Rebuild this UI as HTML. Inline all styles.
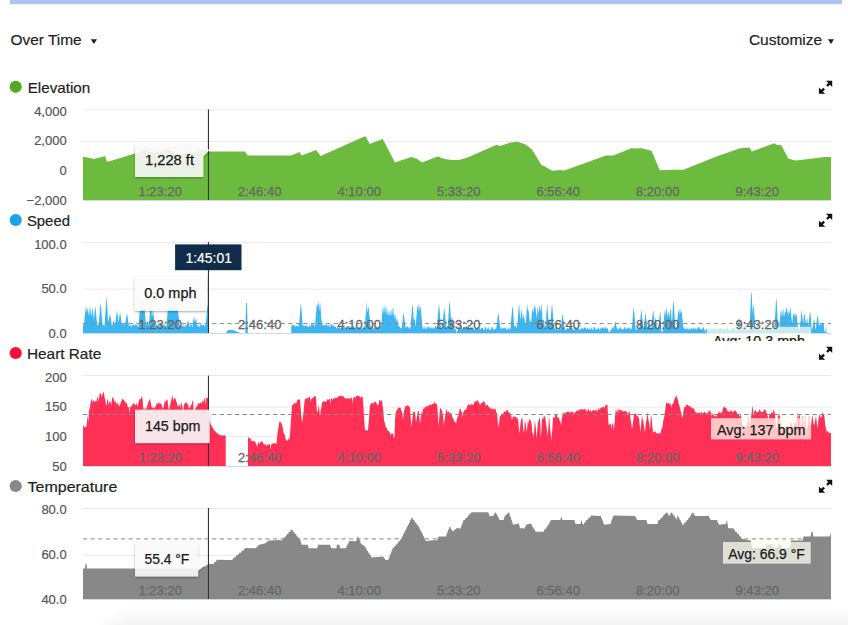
<!DOCTYPE html><html><head><meta charset="utf-8"><style>html,body{margin:0;padding:0;background:#fff;width:848px;height:625px;overflow:hidden}svg{display:block}text{font-family:"Liberation Sans",sans-serif}</style></head><body>
<svg width="848" height="625" viewBox="0 0 848 625">
<defs><linearGradient id="bsh" x1="0" y1="0" x2="0" y2="1"><stop offset="0" stop-color="#fff" stop-opacity="0"/><stop offset="1" stop-color="#e9e9e9" stop-opacity="1"/></linearGradient><linearGradient id="bshx" x1="0" y1="0" x2="1" y2="0"><stop offset="0" stop-color="#fff"/><stop offset="0.25" stop-color="#fff" stop-opacity="0"/></linearGradient><filter id="sh" x="-20%" y="-20%" width="140%" height="160%"><feGaussianBlur in="SourceAlpha" stdDeviation="0.9"/><feOffset dx="0" dy="1.4" result="b"/><feFlood flood-color="#000" flood-opacity="0.42"/><feComposite in2="b" operator="in"/><feMerge><feMergeNode/><feMergeNode in="SourceGraphic"/></feMerge></filter></defs>
<filter id="blr" x="-50%" y="-50%" width="200%" height="200%"><feGaussianBlur stdDeviation="9"/></filter>
<rect x="98" y="619" width="900" height="60" rx="30" fill="#000" opacity="0.055" filter="url(#blr)"/>
<rect x="10" y="0" width="832" height="4" fill="#abc6f1"/>
<rect x="10" y="4" width="832" height="1" fill="#abc6f1" opacity="0.25"/>
<text x="10.4" y="45.4" font-size="15" fill="#1e1e1e" stroke="#1e1e1e" stroke-width="0.2" textLength="71.3" lengthAdjust="spacingAndGlyphs">Over Time</text>
<path d="M90.8 39.2 L97 39.2 L93.9 43.9 Z" fill="#1e1e1e"/>
<text x="748.9" y="45.1" font-size="15" fill="#1e1e1e" stroke="#1e1e1e" stroke-width="0.2" textLength="73.3" lengthAdjust="spacingAndGlyphs">Customize</text>
<path d="M827.9 39.2 L834 39.2 L831 43.9 Z" fill="#1e1e1e"/>
<circle cx="15.7" cy="86.8" r="6.1" fill="#52ab1e"/>
<text x="27.7" y="92.9" font-size="15" fill="#1e1e1e" stroke="#1e1e1e" stroke-width="0.2" textLength="62.5" lengthAdjust="spacingAndGlyphs">Elevation</text>
<g transform="translate(0,0)"><path d="M826 80.8 L832.2 80.8 L832.2 87 L829.95 84.75 L827.83 86.87 L826.13 85.17 L828.25 83.05 Z" fill="#111"/><path d="M818.9 87.6 L821.15 89.85 L823.27 87.73 L824.97 89.43 L822.85 91.55 L825.1 93.8 L818.9 93.8 Z" fill="#111"/></g>
<text x="66.7" y="115.8" font-size="13" fill="#555" stroke="#555" stroke-width="0.2" text-anchor="end">4,000</text>
<text x="66.7" y="144.9" font-size="13" fill="#555" stroke="#555" stroke-width="0.2" text-anchor="end">2,000</text>
<text x="66.7" y="174.8" font-size="13" fill="#555" stroke="#555" stroke-width="0.2" text-anchor="end">0</text>
<text x="66.7" y="204.8" font-size="13" fill="#555" stroke="#555" stroke-width="0.2" text-anchor="end">−2,000</text>
<rect x="83" y="109.3" width="748" height="1" fill="#eaeaea"/>
<rect x="83" y="141" width="748" height="1" fill="#eaeaea"/>
<path d="M83 200 L83 156.6 L94 159 L103.6 156.6 L105 156 L107 161.8 L112 160.5 L134 153.8 L143.7 150.7 L157.8 153 L167 149.5 L176.7 154 L191 153 L206 149.5 L208.4 151.4 L245 151.4 L247.5 155.4 L291 155.4 L299.5 151.9 L301.8 155.4 L316 150 L320.7 156.1 L364.3 136.6 L366 136.8 L369.5 144.1 L382.7 138.9 L395 162.5 L402 160 L411.5 157 L417.4 159 L422 162.5 L437.5 156.6 L444.5 159 L451.6 160 L458.7 160 L467 157.8 L496.6 144.8 L500 146 L510.7 142.5 L517.8 141.7 L526 144.8 L532 149.5 L541.4 164.9 L544 166 L552 170.8 L561.4 170 L563.8 170.8 L606 155.4 L613.3 155.4 L632 147.9 L634 148.5 L641.6 148.3 L651.5 150.7 L659.8 170.3 L671.6 169.8 L683.4 169.8 L716.4 156.6 L740 148.3 L749.4 147.6 L751.8 151.4 L774.2 143.2 L776.5 144.8 L781.3 145.3 L788.3 158.5 L795.4 160.4 L813 158.5 L824.9 157 L831 157 L831 200 Z" fill="#6cbb3f"/>
<rect x="83" y="200" width="748" height="1" fill="#cfd7ec"/>
<text x="160.2" y="195.5" font-size="13" fill="#666" stroke="#666" stroke-width="0.3" text-anchor="middle">1:23:20</text>
<text x="259.7" y="195.5" font-size="13" fill="#666" stroke="#666" stroke-width="0.3" text-anchor="middle">2:46:40</text>
<text x="359.2" y="195.5" font-size="13" fill="#666" stroke="#666" stroke-width="0.3" text-anchor="middle">4:10:00</text>
<text x="458.7" y="195.5" font-size="13" fill="#666" stroke="#666" stroke-width="0.3" text-anchor="middle">5:33:20</text>
<text x="558.2" y="195.5" font-size="13" fill="#666" stroke="#666" stroke-width="0.3" text-anchor="middle">6:56:40</text>
<text x="657.7" y="195.5" font-size="13" fill="#666" stroke="#666" stroke-width="0.3" text-anchor="middle">8:20:00</text>
<text x="757.2" y="195.5" font-size="13" fill="#666" stroke="#666" stroke-width="0.3" text-anchor="middle">9:43:20</text>
<rect x="207.9" y="109.5" width="1.1" height="90.5" fill="#333"/>
<path filter="url(#sh)" d="M135 144.4 L203.4 144.4 L209.3 150.3 L203.4 156.5 L203.4 176.9 L135 176.9 Z" fill="#fff" fill-opacity="0.85"/>
<text x="145" y="165.4" font-size="14" fill="#1a1a1a" stroke="#1a1a1a" stroke-width="0.25" textLength="49" lengthAdjust="spacingAndGlyphs">1,228 ft</text>
<circle cx="15.7" cy="220" r="6.1" fill="#1aa3ea"/>
<text x="26.9" y="225.7" font-size="15" fill="#1e1e1e" stroke="#1e1e1e" stroke-width="0.2" textLength="43.1" lengthAdjust="spacingAndGlyphs">Speed</text>
<g transform="translate(0,133)"><path d="M826 80.8 L832.2 80.8 L832.2 87 L829.95 84.75 L827.83 86.87 L826.13 85.17 L828.25 83.05 Z" fill="#111"/><path d="M818.9 87.6 L821.15 89.85 L823.27 87.73 L824.97 89.43 L822.85 91.55 L825.1 93.8 L818.9 93.8 Z" fill="#111"/></g>
<text x="66.7" y="248.5" font-size="13" fill="#555" stroke="#555" stroke-width="0.2" text-anchor="end">100.0</text>
<text x="66.7" y="293" font-size="13" fill="#555" stroke="#555" stroke-width="0.2" text-anchor="end">50.0</text>
<text x="66.7" y="337.7" font-size="13" fill="#555" stroke="#555" stroke-width="0.2" text-anchor="end">0.0</text>
<rect x="83" y="242.1" width="748" height="1" fill="#eaeaea"/>
<rect x="83" y="288.6" width="748" height="1" fill="#eaeaea"/>
<rect x="83" y="333" width="748" height="1" fill="#cfd7ec"/>
<path d="M83 333 L83 333 L83 324.4 L83.5 323.7 L84 325.5 L84.5 318.6 L85 314.5 L85.5 309.1 L86 306 L86.5 311.3 L87 312.4 L87.5 308 L88 308.8 L88.5 313.4 L89 315.4 L89.5 310.6 L90 305 L90.5 310 L91 315.8 L91.5 315.8 L92 310.1 L92.5 307 L93 312.5 L93.5 316.1 L94 319.6 L94.5 313.1 L95 308 L95.5 307 L96 312.1 L96.5 318.4 L97 321.9 L97.5 325.3 L98 325.5 L98.5 324.5 L99 321.4 L99.5 314.2 L100 308.4 L100.5 302.7 L101 306.6 L101.5 312.5 L102 318.3 L102.5 325.3 L103 324.8 L103.5 324.3 L104 326.1 L104.5 325.7 L105 318.1 L105.5 311.2 L106 303.4 L106.5 295.6 L107 303.6 L107.5 310.7 L108 320.2 L108.5 321.4 L109 319.2 L109.5 316.4 L110 313 L110.5 316.1 L111 318.4 L111.5 323 L112 326 L112.5 324.1 L113 322.7 L113.5 320.3 L114 321.6 L114.5 323.4 L115 325.3 L115.5 321.7 L116 318.5 L116.5 314.4 L117 310 L117.5 314.1 L118 317.1 L118.5 322.4 L119 319.1 L119.5 315.9 L120 312 L120.5 315.2 L121 318.6 L121.5 322.7 L122 323.3 L122.5 324.9 L123 323.8 L123.5 323.6 L124 323.4 L124.5 326 L125 323.7 L125.5 321.8 L126 319.1 L126.5 316.5 L127 313 L127.5 316.1 L128 319.4 L128.5 323.6 L129 326.1 L129.5 326.3 L130 324.7 L130.5 325.2 L131 325 L131.5 326.9 L132 327.1 L132.5 324.2 L133 324.3 L133.5 324.5 L134 324.5 L134.5 325.4 L135 325.8 L135.5 324.6 L136 323.7 L136.5 325.2 L137 325 L137.5 325.7 L138 327.1 L138.5 326.2 L139 320.2 L139.5 313.6 L140 306.9 L140.5 300 L141 307.1 L141.5 312.1 L142 304.1 L142.5 296 L143 303.7 L143.5 308.1 L144 302 L144.5 308.3 L145 313.5 L145.5 319.3 L146 324.5 L146.5 324.3 L147 324.9 L147.5 323.9 L148 323.7 L148.5 324.2 L149 323 L149.5 318.1 L150 311.8 L150.5 306.8 L151 305.4 L151.5 310.8 L152 316.6 L152.5 313.9 L153 310 L153.5 313.7 L154 318.8 L154.5 323.6 L155 325.4 L155.5 325.4 L156 324 L156.5 324.1 L157 324.9 L157.5 324.7 L158 326.7 L158.5 324.3 L159 323.8 L159.5 327.1 L160 325.6 L160.5 324.2 L161 325.7 L161.5 323.8 L162 325.6 L162.5 327.2 L163 326.8 L163.5 326.2 L164 324.6 L164.5 325 L165 324.3 L165.5 326.5 L166 325.6 L166.5 326.5 L167 319.6 L167.5 312.9 L168 307 L168.5 300 L169 307 L169.5 306.3 L170 299 L170.5 306.2 L171 307.2 L171.5 301 L172 307.3 L172.5 305.9 L173 299.5 L173.5 306.1 L174 306.5 L174.5 300 L175 307.1 L175.5 308.1 L176 302 L176.5 308.6 L177 310.8 L177.5 305 L178 310.1 L178.5 315.3 L179 320.3 L179.5 324.4 L180 325.9 L180.5 326.9 L181 326.7 L181.5 325.4 L182 326.1 L182.5 326.6 L183 324 L183.5 326.1 L184 327 L184.5 326.5 L185 326.4 L185.5 325.4 L186 324.3 L186.5 326.5 L187 323.5 L187.5 322.4 L188 320 L188.5 321.8 L189 323.7 L189.5 327.1 L190 326.3 L190.5 324.3 L191 324.2 L191.5 324.2 L192 327 L192.5 326.6 L193 321.9 L193.5 319.8 L194 316 L194.5 319.6 L195 322.4 L195.5 320.7 L196 318 L196.5 320.1 L197 324.6 L197.5 326 L198 325.6 L198.5 327.1 L199 325.3 L199.5 326.8 L200 326.7 L200.5 324.5 L201 324.6 L201.5 324.8 L202 324.6 L202.5 325.8 L203 324.6 L203.5 325.2 L204 324.2 L204.5 327 L205 325 L205.5 325.3 L206 321.2 L206.5 316.1 L207 309.6 L207.5 304 L208 309.7 L208.4 333 L208.4 333 Z" fill="#3db5f0"/>
<path d="M291.2 333 L291.2 333 L291.2 326.1 L291.7 326.1 L292.2 324.3 L292.7 325.8 L293.2 324.9 L293.7 324.2 L294.2 327.1 L294.7 324.8 L295.2 325.9 L295.7 326.8 L296.2 326.2 L296.7 325.4 L297.2 326.1 L297.7 326.2 L298.2 327 L298.7 324.6 L299.2 323.6 L299.7 316.5 L300.2 310.2 L300.7 304.4 L301.2 305.5 L301.7 311.9 L302.2 318.7 L302.7 325.7 L303.2 325.3 L303.7 325.9 L304.2 325.5 L304.7 325.5 L305.2 326.2 L305.7 325.3 L306.2 325.6 L306.7 325.4 L307.2 327.1 L307.7 326.2 L308.2 326.9 L308.7 327.1 L309.2 324.6 L309.7 325.7 L310.2 327.1 L310.7 326.7 L311.2 324.2 L311.7 324.1 L312.2 325.3 L312.7 324 L313.2 324.6 L313.7 324 L314.2 326.1 L314.7 326.5 L315.2 325.6 L315.7 316.9 L316.2 311.6 L316.7 305 L317.2 303.4 L317.7 307.8 L318.2 300.5 L318.7 304.4 L319.2 311.4 L319.7 304 L320.2 302.7 L320.7 310 L321.2 316.9 L321.7 321.7 L322.2 325.3 L322.7 325.6 L323.2 324.9 L323.7 324.4 L324.2 324.8 L324.7 326.3 L325.2 323.8 L325.7 325.7 L326.2 325.3 L326.7 323.8 L327.2 324.9 L327.7 325.9 L328.2 325.5 L328.7 323.9 L329.2 327.2 L329.7 326.5 L330.2 327.2 L330.7 324.1 L331.2 324.7 L331.7 323.8 L332.2 326.5 L332.7 324.7 L333.2 324.2 L333.7 325.2 L334.2 327 L334.7 326.6 L335.2 326.6 L335.7 326.2 L336.2 329 L336.7 327.8 L337.2 328.2 L337.7 326 L338.2 325.9 L338.7 328.2 L339.2 327.2 L339.7 326 L340.2 329.1 L340.7 328 L341.2 328.6 L341.7 326 L342.2 328.8 L342.7 325.9 L343.2 328.8 L343.7 327.3 L344.2 326.9 L344.7 327.7 L345.2 329 L345.7 326.7 L346.2 326.2 L346.7 327.6 L347.2 326.6 L347.7 326.1 L348.2 326.3 L348.7 325.9 L349.2 326.4 L349.7 326.8 L350.2 326.8 L350.7 328.4 L351.2 326.7 L351.7 327.5 L352.2 326.3 L352.7 326.9 L353.2 325.8 L353.7 326.6 L354.2 325.8 L354.7 328.3 L355.2 327.7 L355.7 326.4 L356.2 327.4 L356.7 329.1 L357.2 326.1 L357.7 328.6 L358.2 327.3 L358.7 327.5 L359.2 328.7 L359.7 327.1 L360.2 327.5 L360.7 328.2 L361.2 329.2 L361.7 326.9 L362.2 328.7 L362.7 328.2 L363.2 328 L363.7 327.2 L364.2 327 L364.7 325.9 L365.2 321.1 L365.7 314.6 L366.2 308.9 L366.7 302 L367.2 308.4 L367.7 313.3 L368.2 307.9 L368.7 306.6 L369.2 312.9 L369.7 318.3 L370.2 324.2 L370.7 326.8 L371.2 327.4 L371.7 326.3 L372.2 327.3 L372.7 326.6 L373.2 329.2 L373.7 329.2 L374.2 327.7 L374.7 326.6 L375.2 329.2 L375.7 326.8 L376.2 327 L376.7 325.7 L377.2 327.1 L377.7 327.4 L378.2 327.5 L378.7 326.4 L379.2 327.5 L379.7 325.7 L380.2 326.7 L380.7 326 L381.2 325.9 L381.7 319 L382.2 313.2 L382.7 307.6 L383.2 306.4 L383.7 312.8 L384.2 312.8 L384.7 306.2 L385.2 304.7 L385.7 311.7 L386.2 315 L386.7 308.5 L387.2 307.3 L387.7 313.9 L388.2 316.3 L388.7 312 L389.2 311 L389.7 315.2 L390.2 316.1 L390.7 310.5 L391.2 309.2 L391.7 314.9 L392.2 314.9 L392.7 308.3 L393.2 307.4 L393.7 313.3 L394.2 319 L394.7 314.6 L395.2 313.8 L395.7 317.8 L396.2 322.7 L396.7 318.6 L397.2 317.7 L397.7 321.3 L398.2 324.4 L398.7 326.2 L399.2 327 L399.7 326.1 L400.2 328.7 L400.7 327.7 L401.2 328 L401.7 328 L402.2 323.8 L402.7 319.2 L403.2 314.7 L403.7 312.7 L404.2 317 L404.7 320.9 L405.2 325.1 L405.7 328.1 L406.2 325.9 L406.7 328.4 L407.2 326.6 L407.7 326 L408.2 326.7 L408.7 328.3 L409.2 326.4 L409.7 328.4 L410.2 329.2 L410.7 326.1 L411.2 319.2 L411.7 312.7 L412.2 306.1 L412.7 304.8 L413.2 311.5 L413.7 318.4 L414.2 319.7 L414.7 319.2 L415.2 322.3 L415.7 326.9 L416.2 319.3 L416.7 313.4 L417.2 306.6 L417.7 305.4 L418.2 311.7 L418.7 305.3 L419.2 303.9 L419.7 311 L420.2 307.6 L420.7 306.5 L421.2 312.6 L421.7 318.8 L422.2 323.8 L422.7 328.9 L423.2 326.4 L423.7 329.2 L424.2 329.1 L424.7 325.8 L425.2 327.4 L425.7 328.7 L426.2 329.2 L426.7 327.3 L427.2 326.7 L427.7 326.5 L428.2 329.1 L428.7 326.5 L429.2 327.8 L429.7 326.2 L430.2 327.6 L430.7 329.1 L431.2 326.2 L431.7 328.7 L432.2 327.5 L432.7 328.9 L433.2 328.2 L433.7 326.5 L434.2 328.9 L434.7 327.5 L435.2 325.8 L435.7 325.7 L436.2 327.5 L436.7 327.3 L437.2 325.5 L437.7 318.6 L438.2 312.5 L438.7 305.9 L439.2 304.8 L439.7 310.7 L440.2 318.7 L440.7 325.9 L441.2 326.1 L441.7 329 L442.2 328.3 L442.7 325.3 L443.2 318 L443.7 312.6 L444.2 307.1 L444.7 310.9 L445.2 316.3 L445.7 321.5 L446.2 327.2 L446.7 326.7 L447.2 325.9 L447.7 326.1 L448.2 320.9 L448.7 312.1 L449.2 305.3 L449.7 300.5 L450.2 307.7 L450.7 315.5 L451.2 321.5 L451.7 317.6 L452.2 317 L452.7 321.9 L453.2 326.7 L453.7 328 L454.2 329 L454.7 329.1 L455.2 328 L455.7 330.1 L456.2 330.8 L456.7 333 L457.2 331.2 L457.7 330.1 L458.2 328.3 L458.7 326.7 L459.2 325.9 L459.7 329 L460.2 326.2 L460.7 327.4 L461.2 326.9 L461.7 326.8 L462.2 328.4 L462.7 329.2 L463.2 326.6 L463.7 328.1 L464.2 326.8 L464.7 327.7 L465.2 327.1 L465.7 326.3 L466.2 326.3 L466.7 326.4 L467.2 329 L467.7 327.5 L468.2 326.5 L468.7 329 L469.2 329.3 L469.7 327.3 L470.2 327.2 L470.7 327.4 L471.2 327 L471.7 327.9 L472.2 327 L472.7 327.6 L473.2 327.6 L473.7 328.8 L474.2 329.9 L474.7 329.4 L475.2 328.2 L475.7 328.2 L476.2 328.6 L476.7 328.1 L477.2 327.9 L477.7 326.9 L478.2 327.7 L478.7 330.2 L479.2 327.2 L479.7 328.5 L480.2 329 L480.7 329.8 L481.2 327.5 L481.7 327.7 L482.2 327.6 L482.7 328.1 L483.2 328.3 L483.7 330.1 L484.2 329.8 L484.7 329.8 L485.2 326.8 L485.7 326.8 L486.2 329.3 L486.7 329.9 L487.2 328.4 L487.7 328.8 L488.2 326.7 L488.7 328.1 L489.2 330 L489.7 329.7 L490.2 329.8 L490.7 330.2 L491.2 327.6 L491.7 327.1 L492.2 327.3 L492.7 328.6 L493.2 329.2 L493.7 330.1 L494.2 329.3 L494.7 329 L495.2 329.5 L495.7 328.3 L496.2 328.7 L496.7 324.4 L497.2 321.8 L497.7 316.4 L498.2 312.2 L498.7 315 L499.2 319.1 L499.7 323 L500.2 327.6 L500.7 329 L501.2 329.2 L501.7 327.1 L502.2 327 L502.7 328.6 L503.2 328.8 L503.7 328.1 L504.2 327.5 L504.7 328.9 L505.2 326.7 L505.7 327.8 L506.2 328.4 L506.7 330.2 L507.2 329 L507.7 329.9 L508.2 328.4 L508.7 327.5 L509.2 327.6 L509.7 330.2 L510.2 329.2 L510.7 326.5 L511.2 319.5 L511.7 314.1 L512.2 307.6 L512.7 306.2 L513.2 312.5 L513.7 319.7 L514.2 327.2 L514.7 326.4 L515.2 325.4 L515.7 325.4 L516.2 326.6 L516.7 328.6 L517.2 326.1 L517.7 320.9 L518.2 313.5 L518.7 306.2 L519.2 304.7 L519.7 312.4 L520.2 318.3 L520.7 318.3 L521.2 312.1 L521.7 309 L522.2 314.8 L522.7 319.4 L523.2 317.5 L523.7 313 L524.2 316.8 L524.7 320.6 L525.2 325 L525.7 323.6 L526.2 317.3 L526.7 309.4 L527.2 303 L527.7 309.4 L528.2 310.3 L528.7 311 L529.2 316 L529.7 320.9 L530.2 321.7 L530.7 321.4 L531.2 322.3 L531.7 315.8 L532.2 309.8 L532.7 308.5 L533.2 314.1 L533.7 310 L534.2 303.5 L534.7 307.8 L535.2 307.3 L535.7 308.8 L536.2 314.7 L536.7 318.3 L537.2 312.2 L537.7 306.2 L538.2 309.6 L538.7 314.7 L539.2 308.3 L539.7 304.4 L540.2 310.6 L540.7 310.9 L541.2 303.3 L541.7 307.5 L542.2 315.1 L542.7 322.4 L543.2 320.2 L543.7 319.3 L544.2 323.2 L544.7 326.6 L545.2 330 L545.7 322.3 L546.2 316.2 L546.7 310.1 L547.2 303 L547.7 309.6 L548.2 317 L548.7 323.9 L549.2 321.5 L549.7 321 L550.2 323.5 L550.7 321 L551.2 312.5 L551.7 305.9 L552.2 304.5 L552.7 311.2 L553.2 318 L553.7 327.1 L554.2 328.9 L554.7 327.6 L555.2 329.3 L555.7 327.8 L556.2 327.7 L556.7 326.7 L557.2 329.4 L557.7 330 L558.2 329 L558.7 330.1 L559.2 326.8 L559.7 327.5 L560.2 328.4 L560.7 330.1 L561.2 325.6 L561.7 320.1 L562.2 316.1 L562.7 313.8 L563.2 317.9 L563.7 322.9 L564.2 325.1 L564.7 329.6 L565.2 329.4 L565.7 329.7 L566.2 329.5 L566.7 328.9 L567.2 327.9 L567.7 327.9 L568.2 328 L568.7 329.5 L569.2 327 L569.7 327.4 L570.2 329.4 L570.7 327.6 L571.2 326.9 L571.7 326.8 L572.2 328.7 L572.7 327.9 L573.2 330.2 L573.7 329.9 L574.2 330.3 L574.7 327.7 L575.2 327 L575.7 327 L576.2 328.5 L576.7 329.3 L577.2 328.3 L577.7 327.5 L578.2 328.2 L578.7 328.9 L579.2 329.1 L579.7 329.4 L580.2 329.7 L580.7 329.1 L581.2 327.1 L581.7 329.7 L582.2 327.8 L582.7 328.7 L583.2 328 L583.7 329.4 L584.2 327.4 L584.7 327.6 L585.2 327.6 L585.7 327.3 L586.2 329.9 L586.7 328.8 L587.2 327.9 L587.7 328.1 L588.2 330.3 L588.7 328.5 L589.2 327.5 L589.7 329.6 L590.2 329.1 L590.7 330.3 L591.2 327.1 L591.7 328.4 L592.2 329.6 L592.7 329.7 L593.2 330 L593.7 326.8 L594.2 327.8 L594.7 327.1 L595.2 327.4 L595.7 330.2 L596.2 328.8 L596.7 330 L597.2 328 L597.7 329.8 L598.2 328.3 L598.7 327.6 L599.2 329.5 L599.7 330.1 L600.2 327.1 L600.7 328.8 L601.2 328.9 L601.7 327.5 L602.2 328 L602.7 327.2 L603.2 327.4 L603.7 327.6 L604.2 328.9 L604.7 329 L605.2 327.4 L605.7 326.7 L606.2 327.9 L606.7 329.1 L607.2 327.4 L607.7 328.8 L608.2 329.7 L608.7 331.8 L609.2 332.4 L609.7 332.4 L610.2 331.1 L610.7 330.3 L611.2 329.7 L611.7 329 L612.2 327 L612.7 327.3 L613.2 329.2 L613.7 328.2 L614.2 326.7 L614.7 324.3 L615.2 322 L615.7 322.2 L616.2 325.3 L616.7 327.5 L617.2 328.2 L617.7 329.8 L618.2 330.3 L618.7 328 L619.2 327.4 L619.7 329.3 L620.2 327.4 L620.7 326.7 L621.2 329.9 L621.7 328.2 L622.2 329.7 L622.7 328.2 L623.2 329.9 L623.7 328.4 L624.2 327.3 L624.7 326.8 L625.2 328.7 L625.7 329 L626.2 330 L626.7 327 L627.2 328.9 L627.7 328 L628.2 328.5 L628.7 327.2 L629.2 327.7 L629.7 328.6 L630.2 330 L630.7 327.1 L631.2 328.5 L631.7 329.6 L632.2 325.1 L632.7 317.3 L633.2 311.6 L633.7 306 L634.2 312.4 L634.7 317.8 L635.2 322.5 L635.7 330 L636.2 328.1 L636.7 330 L637.2 328.9 L637.7 329.7 L638.2 327.3 L638.7 329.5 L639.2 327.5 L639.7 325.1 L640.2 320.8 L640.7 315.2 L641.2 309.5 L641.7 312.5 L642.2 317.8 L642.7 323.3 L643.2 328.1 L643.7 326.3 L644.2 322.7 L644.7 319.3 L645.2 314.8 L645.7 313.6 L646.2 318.2 L646.7 323 L647.2 325.3 L647.7 328.9 L648.2 323.2 L648.7 320.3 L649.2 319.5 L649.7 323.5 L650.2 326.4 L650.7 328.2 L651.2 328.8 L651.7 323.2 L652.2 318.5 L652.7 313.1 L653.2 310 L653.7 314.6 L654.2 320.5 L654.7 323.1 L655.2 318.5 L655.7 317.9 L656.2 322.8 L656.7 326.6 L657.2 327.3 L657.7 328.4 L658.2 327.1 L658.7 323.8 L659.2 320.1 L659.7 315.2 L660.2 311 L660.7 315.6 L661.2 328.9 L661.7 332 L662.2 332 L662.7 330.9 L663.2 328.4 L663.7 322.1 L664.2 316 L664.7 311.2 L665.2 310.1 L665.7 316.2 L666.2 311.6 L666.7 306 L667.2 312.4 L667.7 318.1 L668.2 313.1 L668.7 311.8 L669.2 317.5 L669.7 315.5 L670.2 309.8 L670.7 308.5 L671.2 313.8 L671.7 320.9 L672.2 319.8 L672.7 310 L673.2 302.5 L673.7 301 L674.2 308.6 L674.7 318.1 L675.2 324.5 L675.7 329.6 L676.2 327.2 L676.7 327.4 L677.2 323.1 L677.7 316.2 L678.2 311.1 L678.7 310.2 L679.2 315.2 L679.7 309.3 L680.2 308.2 L680.7 313.8 L681.2 312.3 L681.7 311.1 L682.2 316.7 L682.7 320.6 L683.2 327.4 L683.7 327.1 L684.2 328.6 L684.7 329 L685.2 328 L685.7 329.8 L686.2 328.7 L686.7 328.8 L687.2 329.9 L687.7 327.1 L688.2 330.3 L688.7 329 L689.2 328.1 L689.7 329.6 L690.2 327.7 L690.7 330.3 L691.2 328.8 L691.7 328 L692.2 329.5 L692.7 328.3 L693.2 327.3 L693.7 329.4 L694.2 326.9 L694.7 329.7 L695.2 327.6 L695.7 329 L696.2 330.2 L696.7 328.8 L697.2 329.1 L697.7 327.8 L698.2 326.7 L698.7 326.8 L699.2 327.2 L699.7 328.9 L700.2 328.8 L700.7 329 L701.2 330.4 L701.7 327.7 L702.2 328 L702.7 329.6 L703.2 327.3 L703.7 327.2 L704.2 328.5 L704.7 331 L705.2 331.9 L705.7 328.6 L706.2 329.3 L706.7 329.3 L707.2 327.9 L707.7 329.4 L708.2 328.9 L708.7 327.7 L709.2 330.6 L709.7 328.1 L710.2 327.7 L710.7 327.5 L711.2 329.5 L711.7 330.3 L712.2 330 L712.7 328.6 L713.2 328.2 L713.7 327.2 L714.2 329.5 L714.7 329.2 L715.2 328.5 L715.7 329.5 L716.2 328.8 L716.7 330.6 L717.2 329.8 L717.7 328.1 L718.2 330.5 L718.7 327.4 L719.2 329.1 L719.7 328.7 L720.2 328.1 L720.7 327.4 L721.2 330 L721.7 327.2 L722.2 329.2 L722.7 330.6 L723.2 327.7 L723.7 327.9 L724.2 329.4 L724.7 329 L725.2 329.5 L725.7 330.1 L726.2 327.8 L726.7 328.3 L727.2 328.3 L727.7 327.4 L728.2 330.4 L728.7 330 L729.2 329.8 L729.7 327.2 L730.2 330.2 L730.7 329.9 L731.2 328.9 L731.7 329.9 L732.2 328.8 L732.7 328 L733.2 327.6 L733.7 328 L734.2 327.3 L734.7 328.4 L735.2 329.9 L735.7 329.7 L736.2 330.2 L736.7 329.8 L737.2 328.2 L737.7 328.3 L738.2 323.3 L738.7 319 L739.2 317.9 L739.7 322.1 L740.2 327.6 L740.7 330.7 L741.2 328 L741.7 330.4 L742.2 327.3 L742.7 328.1 L743.2 328 L743.7 329.9 L744.2 330.6 L744.7 329.9 L745.2 328.4 L745.7 330.4 L746.2 328.4 L746.7 328.1 L747.2 330.5 L747.7 329.5 L748.2 329.7 L748.7 329.6 L749.2 330.7 L749.7 324.5 L750.2 314.3 L750.7 302.7 L751.2 291.6 L751.7 293.6 L752.2 305 L752.7 314.1 L753.2 307 L753.7 305.6 L754.2 312.7 L754.7 318.5 L755.2 327.6 L755.7 327.7 L756.2 327.3 L756.7 327.6 L757.2 330.5 L757.7 328.4 L758.2 327.7 L758.7 327.3 L759.2 327.3 L759.7 329.7 L760.2 329.5 L760.7 329.7 L761.2 329.9 L761.7 327.4 L762.2 329.3 L762.7 328.5 L763.2 330.1 L763.7 330.2 L764.2 330.4 L764.7 327.4 L765.2 330.3 L765.7 330.5 L766.2 330.6 L766.7 327.6 L767.2 327.9 L767.7 327.6 L768.2 327.3 L768.7 330.3 L769.2 330.1 L769.7 329.5 L770.2 330.2 L770.7 329.5 L771.2 328.2 L771.7 327.6 L772.2 327.6 L772.7 329.9 L773.2 327.9 L773.7 328.3 L774.2 328.7 L774.7 322.2 L775.2 314.3 L775.7 305.7 L776.2 297.1 L776.7 302.3 L777.2 311 L777.7 321.4 L778.2 329 L778.7 330.3 L779.2 328.3 L779.7 321.2 L780.2 316.7 L780.7 311.3 L781.2 310.3 L781.7 315.5 L782.2 316 L782.7 309.7 L783.2 308.3 L783.7 315 L784.2 316.8 L784.7 312.3 L785.2 311 L785.7 313.8 L786.2 307.8 L786.7 306.7 L787.2 313.8 L787.7 311 L788.2 310.2 L788.7 315.7 L789.2 313 L789.7 312.2 L790.2 306.3 L790.7 309.9 L791.2 316.1 L791.7 318.8 L792.2 324.4 L792.7 318.3 L793.2 313.7 L793.7 313 L794.2 317.6 L794.7 313.4 L795.2 312.7 L795.7 316.9 L796.2 312.9 L796.7 315.7 L797.2 320.5 L797.7 324.9 L798.2 328.5 L798.7 328.6 L799.2 328.6 L799.7 330.4 L800.2 323.7 L800.7 320.5 L801.2 314.2 L801.7 309.5 L802.2 314.4 L802.7 320.5 L803.2 322.7 L803.7 318.1 L804.2 313.9 L804.7 314.5 L805.2 319.1 L805.7 323.7 L806.2 324 L806.7 319 L807.2 317.9 L807.7 322.2 L808.2 326.6 L808.7 322.2 L809.2 318.5 L809.7 313.1 L810.2 312.1 L810.7 316.6 L811.2 321.9 L811.7 327.9 L812.2 329.3 L812.7 327 L813.2 324.2 L813.7 320.7 L814.2 319.4 L814.7 322.9 L815.2 326.8 L815.7 329.7 L816.2 326 L816.7 320.5 L817.2 316.9 L817.7 314.7 L818.2 318.5 L818.7 322.7 L819.2 325.6 L819.7 325.6 L820.2 323.3 L820.7 323.2 L821.2 325.9 L821.7 322.4 L822.2 322.4 L822.7 324.3 L823.2 323.4 L823.7 323.2 L824.2 330.6 L824.7 332.1 L825.2 332.2 L825.7 329.4 L826.2 324.1 L826.5 333 L826.5 333 Z" fill="#3db5f0"/>
<path d="M226 333 L226 333 L226 333 L226.5 331.7 L227 331.1 L227.5 330.7 L228 330.3 L228.5 330.1 L229 330 L229.5 329.9 L230 329.8 L230.5 329.8 L231 329.8 L231.5 329.9 L232 330 L232.5 330.1 L233 330.2 L233.5 330.3 L234 330.5 L234.5 330.7 L235 330.9 L235.5 331.1 L236 331.3 L236.5 331.5 L237 331.7 L237.5 331.9 L238 332.1 L238.5 332.3 L239 332.6 L239.5 332.8 L240 333 L240 333 L240 333 Z" fill="#3db5f0"/>
<path d="M245.2 333 L245.2 333 L246.1 303 L246.9 303 L247.8 333 L247.8 333 Z" fill="#3db5f0"/>
<clipPath id="spclip"><rect x="0" y="0" width="848" height="341"/></clipPath>
<g clip-path="url(#spclip)"><rect x="706.8" y="326.8" width="104.4" height="22" fill="#fffff2" fill-opacity="0.72"/>
<text x="713" y="345.5" font-size="14" fill="#1a1a1a" stroke="#1a1a1a" stroke-width="0.25" textLength="92" lengthAdjust="spacingAndGlyphs">Avg: 10.3 mph</text></g>
<line x1="83" y1="323.6" x2="831" y2="323.6" stroke="#888" stroke-width="1" stroke-dasharray="4.2,3.4"/>
<text x="160.2" y="328.5" font-size="13" fill="#666" stroke="#666" stroke-width="0.3" text-anchor="middle">1:23:20</text>
<text x="259.7" y="328.5" font-size="13" fill="#666" stroke="#666" stroke-width="0.3" text-anchor="middle">2:46:40</text>
<text x="359.2" y="328.5" font-size="13" fill="#666" stroke="#666" stroke-width="0.3" text-anchor="middle">4:10:00</text>
<text x="458.7" y="328.5" font-size="13" fill="#666" stroke="#666" stroke-width="0.3" text-anchor="middle">5:33:20</text>
<text x="558.2" y="328.5" font-size="13" fill="#666" stroke="#666" stroke-width="0.3" text-anchor="middle">6:56:40</text>
<text x="657.7" y="328.5" font-size="13" fill="#666" stroke="#666" stroke-width="0.3" text-anchor="middle">8:20:00</text>
<text x="757.2" y="328.5" font-size="13" fill="#666" stroke="#666" stroke-width="0.3" text-anchor="middle">9:43:20</text>
<rect x="207.9" y="242" width="1.1" height="91" fill="#333"/>
<rect filter="url(#sh)" x="134.6" y="276.9" width="72.2" height="33.9" fill="#fff" fill-opacity="0.9"/>
<text x="144.2" y="298.2" font-size="14" fill="#1a1a1a" stroke="#1a1a1a" stroke-width="0.25" textLength="52.3" lengthAdjust="spacingAndGlyphs">0.0 mph</text>
<rect x="175.1" y="244.4" width="66.4" height="25.8" fill="#0f2c4a"/>
<text x="185.4" y="262.8" font-size="14" fill="#fff" stroke="#fff" stroke-width="0.2" textLength="46.5" lengthAdjust="spacingAndGlyphs">1:45:01</text>
<circle cx="15.7" cy="353" r="6.1" fill="#ff0b3a"/>
<text x="27" y="358.7" font-size="15" fill="#1e1e1e" stroke="#1e1e1e" stroke-width="0.2" textLength="74.2" lengthAdjust="spacingAndGlyphs">Heart Rate</text>
<g transform="translate(0,266)"><path d="M826 80.8 L832.2 80.8 L832.2 87 L829.95 84.75 L827.83 86.87 L826.13 85.17 L828.25 83.05 Z" fill="#111"/><path d="M818.9 87.6 L821.15 89.85 L823.27 87.73 L824.97 89.43 L822.85 91.55 L825.1 93.8 L818.9 93.8 Z" fill="#111"/></g>
<text x="66.7" y="381.7" font-size="13" fill="#555" stroke="#555" stroke-width="0.2" text-anchor="end">200</text>
<text x="66.7" y="411.1" font-size="13" fill="#555" stroke="#555" stroke-width="0.2" text-anchor="end">150</text>
<text x="66.7" y="441" font-size="13" fill="#555" stroke="#555" stroke-width="0.2" text-anchor="end">100</text>
<text x="66.7" y="471" font-size="13" fill="#555" stroke="#555" stroke-width="0.2" text-anchor="end">50</text>
<rect x="83" y="375" width="748" height="1" fill="#eaeaea"/>
<rect x="83" y="406.6" width="748" height="1" fill="#eaeaea"/>
<rect x="83" y="435.8" width="748" height="1" fill="#eaeaea"/>
<path d="M83 466 L83 425 L83.6 425.4 L84.2 427.7 L84.8 426.8 L85.4 426.3 L86 428 L86.6 424.9 L87.2 419.3 L87.8 415.7 L88.4 422.2 L89 410 L89.6 409.4 L90.2 405.9 L90.8 401.5 L91.4 399.5 L92 398.8 L92.6 403.3 L93.2 399.9 L93.8 400.8 L94.4 401.4 L95 402 L95.6 400.8 L96.2 401.8 L96.8 400.2 L97.4 397.3 L98 397 L98.7 401.8 L99.4 394.6 L100.1 393.6 L100.8 393 L101.4 397.5 L102.1 394.5 L102.7 394.7 L103.4 391.5 L104 393 L104.7 398 L105.3 399.5 L106 405 L106.7 404.7 L107.3 399.6 L108 399 L108.7 405.7 L109.3 400.5 L110 403 L110.7 401.1 L111.3 406.4 L112 398 L112.7 397.3 L113.3 398.3 L114 400 L114.6 402.5 L115.2 400.9 L115.8 401.4 L116.4 404.5 L117 404 L117.6 402.8 L118.2 403.4 L118.8 405.6 L119.4 406.6 L120 405 L120.7 403.3 L121.3 401.4 L122 399 L122.7 399.2 L123.3 399.6 L124 400 L124.6 402.1 L125.2 400.4 L125.8 403.5 L126.4 402.1 L127 404 L127.6 406.4 L128.2 407.2 L128.8 406.8 L129.4 413.5 L130 408 L130.7 406.4 L131.3 405.8 L132 406.3 L132.7 404.2 L133.3 403.1 L134 404 L134.7 404.2 L135.3 404.4 L136 405.5 L136.7 402.3 L137.3 406.9 L138 404 L138.7 401.9 L139.3 399.3 L140 399 L140.7 399.4 L141.3 397.6 L142 396 L142.7 400.3 L143.3 409.8 L144 408 L144.7 409.4 L145.3 407.6 L146 410 L146.7 407.9 L147.3 405.3 L148 404 L148.7 400.5 L149.3 400.9 L150 398 L150.7 402.2 L151.3 405.7 L152 408 L152.6 407.3 L153.2 409 L153.8 407.1 L154.4 408.5 L155 407 L155.6 406.4 L156.2 405.3 L156.8 402.5 L157.4 404.8 L158 402 L158.7 403.2 L159.3 403.5 L160 403 L160.6 404 L161.2 403.9 L161.8 404.9 L162.4 407.7 L163 409 L163.7 406.7 L164.3 403.4 L165 400 L165.7 402.6 L166.3 400 L167 399 L167.7 401.5 L168.3 406.9 L169 410 L169.6 408.6 L170.2 405 L170.8 401.4 L171.4 400.3 L172 396 L172.6 396 L173.2 401.1 L173.8 398.4 L174.4 398.4 L175 398 L175.6 399 L176.2 401.4 L176.8 402.4 L177.4 405.7 L178 407 L178.7 405 L179.3 406.1 L180 403 L180.7 409 L181.3 402 L182 404.3 L182.7 408.2 L183.3 411.5 L184 405 L184.6 403.5 L185.2 402.2 L185.8 403 L186.4 403.2 L187 402 L187.6 404.9 L188.2 403.3 L188.8 409.3 L189.4 407.6 L190 408 L190.6 405.6 L191.2 405.5 L191.8 403.6 L192.4 401.2 L193 400 L193.7 412.1 L194.3 411.5 L195 409 L195.6 408.3 L196.2 406.2 L196.8 406.8 L197.4 405.8 L198 403 L198.6 403.5 L199.2 403.8 L199.8 403.5 L200.4 402 L201 403 L201.6 404.1 L202.2 401.9 L202.8 400.6 L203.4 401.9 L204 400 L204.6 398.1 L205.2 399.4 L205.8 405.6 L206.4 396.8 L207 398 L208.4 398 L208.5 418 L211 425 L214 430 L218 434 L221 435.6 L225.7 435.6 L225.7 466 Z" fill="#ff3055"/>
<path d="M248 466 L248 437 L248.7 437.6 L249.3 438.9 L250 437.4 L250.7 438.9 L251.3 440.9 L252 441 L252.6 441.6 L253.3 440.7 L253.9 441.2 L254.5 441.3 L255.1 441.8 L255.8 443 L256.4 444 L257 447.1 L257.7 444.8 L258.4 441.9 L259 443 L259.6 444.2 L260.2 442.4 L260.8 441.8 L261.4 441.1 L262 442 L262.6 441.2 L263.2 444.2 L263.8 443.5 L264.4 444.3 L265 445 L265.6 443.4 L266.2 446.3 L266.9 445.3 L267.5 444.3 L268.1 445.2 L268.8 443.7 L269.4 444.5 L270 444.4 L270.6 449.7 L271.3 444.2 L271.9 443.5 L272.6 444 L273.2 443.1 L273.8 443.4 L274.5 442.9 L275.1 443.9 L275.8 443 L276.4 444.4 L277.2 436.3 L278 430 L278.8 425.4 L279.6 420.9 L280.4 422.2 L281.2 422.6 L282 425 L282.7 427.6 L283.3 431.8 L284 434 L284.7 434.3 L285.3 438.6 L286 439.6 L286.6 440.8 L287.2 439.8 L287.8 440.9 L288.4 437.7 L289 440 L289.6 439 L290.3 429.9 L291 420 L292 405 L292.6 404.7 L293.2 404.6 L293.8 405.2 L294.4 402.3 L295 403 L295.6 403.6 L296.2 403.2 L296.8 401.8 L297.4 399.7 L298 400 L298.7 398.9 L299.3 400 L300 399 L301 412 L302 422.8 L302.8 418.6 L303.5 412 L304.2 404.2 L305 398 L305.6 399.4 L306.2 398.1 L306.9 399.1 L307.5 397.2 L308.1 398.7 L308.8 397.5 L309.4 396.7 L310 397 L310.6 402.2 L311.2 398.7 L311.8 398.9 L312.4 397.9 L313 398 L313.7 396.9 L314.3 396.2 L315 396 L316 397 L317 413 L317.9 410.4 L318.7 405 L319.4 410.6 L320 416 L320.7 410.5 L321.3 408 L322 403 L322.7 401.9 L323.3 401.8 L324 400.9 L324.7 401.1 L325.3 402.2 L326 401 L326.7 402.1 L327.3 398.8 L328 399.8 L328.7 400.2 L329.3 398.5 L330 399 L330.6 403.7 L331.2 398 L331.9 398.4 L332.5 399.8 L333.1 399 L333.8 398.1 L334.4 399.2 L335 398 L335.6 397.6 L336.2 398.6 L336.9 397.4 L337.5 396.7 L338.1 397.3 L338.8 396.7 L339.4 395.8 L340 396 L340.6 395.7 L341.2 396.1 L341.9 395.6 L342.5 397.1 L343.1 395.8 L343.8 396.8 L344.4 398.1 L345 398 L345.6 399.3 L346.2 397.7 L346.9 398.8 L347.5 398.8 L348.1 398.3 L348.8 398 L349.4 398.5 L350 399 L350.6 398.4 L351.2 397.4 L351.9 397.5 L352.5 403.4 L353.1 398.9 L353.8 397 L354.4 396.6 L355 397 L355.6 398.2 L356.2 396.1 L356.9 395.5 L357.5 395.4 L358.1 395.9 L358.8 396.3 L359.4 396 L360 397 L360.7 398.2 L361.4 395.7 L362 397.1 L362.7 397 L363.5 408.1 L364.2 420 L365 430 L365.6 430.4 L366.2 430.4 L366.8 429.7 L367.4 430.7 L368 430 L368.7 422.7 L369.3 413.8 L370 404 L370.7 405.1 L371.3 403.1 L372 403 L372.7 403.2 L373.3 403.8 L374 401.1 L374.7 403 L375.3 401.4 L376 402 L376.7 403.6 L377.3 405.5 L378 405 L378.7 404.1 L379.3 400.2 L380 400 L380.7 401.7 L381.3 399.7 L382 401 L383 408 L384 420 L384.7 422.4 L385.3 424.7 L386 428 L386.7 427.3 L387.3 430.8 L388 430.8 L388.7 430.2 L389.3 432.7 L390 432 L390.6 435.9 L391.2 432.7 L391.8 434.2 L392.4 433.1 L393 434 L393.7 437.2 L394.4 438 L395 420 L396 412 L396.7 410.6 L397.3 409.7 L398 408 L398.7 407.6 L399.3 407.6 L400 408 L400.7 407.8 L401.3 411.4 L402 411 L403 420 L404 411 L404.7 408.5 L405.3 406.4 L406 406 L406.7 406.1 L407.3 405.5 L408 405 L408.7 406.2 L409.3 406.4 L410 408 L410.8 419.1 L411.5 427 L412.2 420 L413 413 L413.7 411.6 L414.3 411.4 L415 412 L416 422 L416.7 417.6 L417.3 415.4 L418 410 L419 412 L420 424 L420.7 418.8 L421.3 414.3 L422 410 L422.6 414.6 L423.2 407.5 L423.8 409.2 L424.4 408.2 L425 407 L425.6 406.6 L426.2 407.6 L426.9 405.3 L427.5 406.4 L428.1 405.7 L428.8 405.4 L429.4 404.9 L430 405 L430.6 404.3 L431.2 405.3 L431.9 404.3 L432.5 404 L433.1 404.1 L433.8 403 L434.4 401.7 L435 403 L435.7 403.9 L436.3 404.5 L437 403 L437.8 413.4 L438.6 426 L439.3 416.7 L440 408 L440.7 407.9 L441.3 410.4 L442 410 L442.7 414.4 L443.3 418.8 L444 425 L444.7 419.6 L445.3 415.3 L446 410 L446.6 409.3 L447.2 412 L447.8 412.6 L448.4 411.2 L449 412 L449.7 413.6 L450.3 412.8 L451 413 L451.7 413.9 L452.3 417.6 L453 418 L453.6 419.6 L454.2 421.5 L454.8 422.1 L455.4 421.3 L456 424 L456.6 421.1 L457.2 417.8 L457.8 416.9 L458.4 415.5 L459 412 L460 408 L460.7 409.5 L461.3 411.8 L462 412 L462.6 418.1 L463.2 411.3 L463.8 412.4 L464.4 410.1 L465 410 L465.6 409.8 L466.2 408.9 L466.8 408.2 L467.4 405.6 L468 405 L468.7 404 L469.3 404.2 L470 406 L470.7 404.4 L471.3 403.8 L472 404.6 L472.7 405 L473.3 405 L474 403 L474.6 402.1 L475.2 401.1 L475.8 401.8 L476.4 401.6 L477 400 L477.6 400.3 L478.2 401.8 L478.8 401.5 L479.4 403.5 L480 405 L480.6 404.2 L481.2 402.8 L481.8 402.7 L482.4 403.4 L483 401 L483.6 401.2 L484.2 402 L484.8 402 L485.4 405.6 L486 405 L486.6 406.1 L487.2 404.6 L487.8 404.8 L488.4 406.4 L489 407 L489.7 407.9 L490.3 408.6 L491 409.3 L491.7 406.9 L492.3 409.9 L493 409 L493.7 408.6 L494.3 409.8 L495 408 L495.7 409.6 L496.3 412.7 L497 413 L497.7 421.1 L498.4 428 L499.2 422.4 L500 415 L500.6 416.4 L501.2 415.2 L501.8 413.3 L502.4 414 L503 414 L503.7 412.4 L504.3 411.6 L505 411.4 L505.7 411.9 L506.3 410.5 L507 410 L507.6 409.6 L508.2 412.5 L508.8 412.3 L509.4 412.5 L510 413 L510.7 414.8 L511.3 416.6 L512 420 L513 416 L513.6 416.9 L514.2 417.6 L514.8 415.3 L515.4 417.1 L516 417 L516.7 417.5 L517.3 419.2 L518 418 L518.8 427.3 L519.5 434 L520.2 426.3 L521 420 L521.8 418.2 L522.5 418 L523.2 427.9 L524 434 L525 419 L525.8 424.8 L526.6 432 L527.3 426.7 L528 419 L528.7 424.4 L529.3 418.5 L530 420 L531 421 L531.7 425 L532.4 434.1 L533 432.2 L533.7 438 L534.4 427.9 L535 420 L535.8 428.1 L536.5 438 L537.2 431.3 L538 422 L538.7 420.8 L539.3 418.3 L540 418 L540.8 438 L541.4 429.9 L542 420 L542.6 417.5 L543.2 419.5 L543.8 415.7 L544.4 417.2 L545 415 L545.7 421 L546.4 426 L547.1 431.1 L547.8 436 L548.4 426.7 L549 415 L549.8 424.9 L550.6 433.1 L551.4 440 L552.2 430.6 L553 418 L553.6 416.7 L554.2 418 L554.8 417.1 L555.4 414 L556 415 L556.6 414 L557.2 417.6 L557.8 418 L558.4 417.1 L559 418 L559.7 420.8 L560.3 421.4 L561 425 L561.7 419.6 L562.3 416.9 L563 412 L563.7 413.7 L564.3 412.7 L565 414 L565.6 412.2 L566.2 412.6 L566.8 412.2 L567.4 411.4 L568 412 L568.7 410.9 L569.3 413.1 L570 413 L570.6 411.3 L571.2 412.3 L571.9 412.1 L572.5 412.3 L573.1 411 L573.8 413.6 L574.4 413.7 L575 412 L575.6 412.5 L576.2 410.2 L576.9 411.8 L577.5 409.9 L578.1 410.9 L578.8 409.6 L579.4 410.6 L580 410 L580.6 408.7 L581.2 409.5 L581.9 408.8 L582.5 410 L583.1 409 L583.8 409.8 L584.4 408.6 L585 410 L585.6 408.7 L586.2 411.1 L586.9 411.8 L587.5 410.2 L588.1 409.3 L588.8 409.3 L589.4 411.4 L590 411 L590.6 409.5 L591.2 412.2 L591.9 410.9 L592.5 410.4 L593.1 410.6 L593.8 409.9 L594.4 410.4 L595 410 L595.6 410.7 L596.2 410.5 L596.9 409.6 L597.5 412.8 L598.1 408.4 L598.8 408.2 L599.4 410.3 L600 409 L600.7 407.8 L601.3 408 L602 407 L602.7 407.2 L603.3 407.3 L604 407 L604.7 408 L605.3 404.8 L606 406 L606.8 404.2 L607.5 405 L608.5 424 L609.1 424.9 L609.7 424.7 L610.3 423.8 L610.9 423.9 L611.5 429.2 L612.1 424.7 L612.7 424.1 L613.3 422.9 L613.9 430.9 L614.5 424 L615.2 414.8 L616 408 L616.7 412.5 L617.3 409.6 L618 413.8 L618.7 408.1 L619.3 410.1 L620 410 L620.6 410.3 L621.2 409.3 L621.9 411.7 L622.5 410.5 L623.1 411.5 L623.8 411.6 L624.4 411 L625 411 L625.6 411.5 L626.2 412.3 L626.9 410.5 L627.5 413.1 L628.1 415.7 L628.8 411.8 L629.4 411.5 L630 413 L630.7 420.8 L631.3 423.7 L632 429 L632.7 425 L633.3 420.5 L634 414 L634.6 414.2 L635.2 413.8 L635.8 413 L636.4 416 L637 415 L637.7 416.3 L638.3 417.6 L639 418 L639.8 425.8 L640.5 432 L641.2 423.8 L642 415 L642.6 419.5 L643.2 420.8 L643.8 424.8 L644.4 429.6 L645 432 L645.6 425.7 L646.2 421.4 L646.9 416.7 L647.5 412 L648.1 417.4 L648.8 421.8 L649.4 424.3 L650 430 L651 414 L651.7 418.8 L652.3 425.7 L653 432 L653.7 432.7 L654.3 430.9 L655 432 L655.6 431.3 L656.2 433.2 L656.8 432.9 L657.4 433.9 L658 433 L658.7 433.6 L659.3 432.9 L660 434 L660.7 432.6 L661.3 429.4 L662 428 L662.7 425.9 L663.3 420.3 L664 418 L664.7 414.1 L665.3 409.3 L666 403 L666.7 402.7 L667.3 402.9 L668 404 L668.7 402.5 L669.3 404.4 L670 403 L670.6 404 L671.2 408.1 L671.8 404.4 L672.4 404.2 L673 404 L673.7 401.9 L674.3 399.6 L675 398 L675.8 396.7 L676.5 394.8 L677.2 398.2 L678 400 L678.7 403.7 L679.3 405.1 L680 408 L680.8 411.2 L681.5 415 L682.4 418.8 L683.2 412.8 L684 408 L684.6 406.8 L685.2 407.2 L685.8 406.3 L686.4 404.6 L687 405 L687.6 405 L688.2 405.4 L688.8 406.1 L689.4 405.4 L690 406 L690.6 407.9 L691.2 406.2 L691.8 407.4 L692.4 408.9 L693 408 L693.6 408.3 L694.2 408.7 L694.8 411.2 L695.4 411.8 L696 413 L696.7 412.2 L697.3 414.1 L698 412.3 L698.7 413.4 L699.3 411.7 L700 413 L700.6 413.4 L701.2 411.7 L701.9 412.5 L702.5 413.9 L703.1 412.5 L703.8 412.9 L704.4 411.6 L705 412.3 L705.7 412.7 L706.3 414.1 L707 413 L707.7 412.8 L708.3 412.2 L709 410.3 L709.6 411.5 L710.2 409.8 L710.8 412.6 L711.4 416.7 L712 412 L712.7 414.8 L713.3 414.7 L714 416 L714.6 417.1 L715.2 414.3 L715.8 416.6 L716.4 416.5 L717 415 L717.7 414.9 L718.3 412.1 L719 413 L719.6 411.4 L720.2 413.2 L720.8 412.5 L721.4 412.4 L722 413 L723 408.2 L723.6 406.5 L724.2 408.2 L724.8 405.9 L725.4 408.6 L726 407 L726.7 409.1 L727.3 411.2 L728 411 L728.6 411.8 L729.2 411.6 L729.8 411.8 L730.4 411.5 L731 410 L731.7 410.2 L732.3 412.6 L733 412 L733.7 412 L734.3 409.8 L735 411 L735.6 410.4 L736.2 411.7 L736.8 412.3 L737.4 415.1 L738 415 L738.8 414.8 L739.5 417 L740.5 414 L741.5 420 L742.5 426 L743.1 424.7 L743.8 427.2 L744.4 427.2 L745 427 L745.7 425.7 L746.3 426.2 L747 427 L748 416 L748.8 421.4 L749.5 427 L750.2 423.5 L751 418 L751.8 411.3 L752.5 405 L753.5 416 L754.2 411.9 L755 410 L755.6 410 L756.2 411.9 L756.8 412.8 L757.4 411.7 L758 412 L758.7 412.2 L759.3 409.1 L760 410 L760.6 410.9 L761.2 411.9 L761.8 412.4 L762.4 412.1 L763 412 L763.7 410.8 L764.3 409.3 L765 410 L765.7 410.6 L766.3 411.9 L767 414 L767.8 417 L768.5 420 L769.2 415.7 L770 414 L770.7 414.7 L771.3 411.9 L772 413 L772.7 413.6 L773.3 410.4 L774 410 L775 414 L776 430 L776.8 429 L777.5 418 L778.2 415.5 L778.9 415.2 L779.6 414 L780.3 420.9 L781 428 L781.6 429.2 L782.2 427.3 L782.8 429.5 L783.4 428.2 L784 430 L784.7 426.9 L785.3 427.1 L786 425 L786.8 429.4 L787.6 432 L788.3 429.6 L789 428 L789.7 432.4 L790.3 422.7 L791 422 L791.7 424.2 L792.3 426 L793 428 L793.7 426.6 L794.3 423 L795 422 L795.8 424.1 L796.5 428 L797.2 418.6 L798 412 L798.8 418.9 L799.6 413 L800.3 419.3 L801 428 L801.9 421.5 L802.8 415 L803.4 421.9 L804 430 L805 415 L805.9 424.4 L806.8 432 L807.4 427.6 L808 425 L809 415 L809.8 420.7 L810.5 428 L811.1 425 L811.8 418.4 L812.4 415 L813.1 419.7 L813.7 423.9 L814.4 425.4 L815.2 420.5 L816 415 L816.8 423 L817.6 428.6 L818.3 421.1 L819 415 L819.7 414.8 L820.3 417.6 L821 418 L821.9 415.3 L822.8 412 L823.6 414.6 L824.4 416 L825.2 425 L826 429 L826.8 432 L827.6 430.7 L828.4 432 L829.2 433.2 L830 433 L831 433 L831 466 Z" fill="#ff3055"/>
<rect x="83" y="466" width="748" height="1" fill="#cfd7ec"/>
<line x1="83" y1="414.5" x2="831" y2="414.5" stroke="#888" stroke-width="1" stroke-dasharray="4.2,3.4"/>
<text x="160.2" y="461.5" font-size="13" fill="#666" stroke="#666" stroke-width="0.3" text-anchor="middle">1:23:20</text>
<text x="259.7" y="461.5" font-size="13" fill="#666" stroke="#666" stroke-width="0.3" text-anchor="middle">2:46:40</text>
<text x="359.2" y="461.5" font-size="13" fill="#666" stroke="#666" stroke-width="0.3" text-anchor="middle">4:10:00</text>
<text x="458.7" y="461.5" font-size="13" fill="#666" stroke="#666" stroke-width="0.3" text-anchor="middle">5:33:20</text>
<text x="558.2" y="461.5" font-size="13" fill="#666" stroke="#666" stroke-width="0.3" text-anchor="middle">6:56:40</text>
<text x="657.7" y="461.5" font-size="13" fill="#666" stroke="#666" stroke-width="0.3" text-anchor="middle">8:20:00</text>
<text x="757.2" y="461.5" font-size="13" fill="#666" stroke="#666" stroke-width="0.3" text-anchor="middle">9:43:20</text>
<rect x="207.9" y="375.6" width="1.1" height="90.4" fill="#333"/>
<rect x="711" y="418.2" width="100.1" height="21.2" fill="#fffff2" fill-opacity="0.72"/>
<text x="717" y="434.8" font-size="14" fill="#1a1a1a" stroke="#1a1a1a" stroke-width="0.25" textLength="88.4" lengthAdjust="spacingAndGlyphs">Avg: 137 bpm</text>
<rect filter="url(#sh)" x="135" y="409.7" width="74.7" height="33.4" fill="#fff" fill-opacity="0.85"/>
<text x="145" y="431.3" font-size="14" fill="#1a1a1a" stroke="#1a1a1a" stroke-width="0.25" textLength="55.5" lengthAdjust="spacingAndGlyphs">145 bpm</text>
<circle cx="15.7" cy="486" r="6.1" fill="#888"/>
<text x="27.6" y="491.6" font-size="15" fill="#1e1e1e" stroke="#1e1e1e" stroke-width="0.2" textLength="89.7" lengthAdjust="spacingAndGlyphs">Temperature</text>
<g transform="translate(0,399)"><path d="M826 80.8 L832.2 80.8 L832.2 87 L829.95 84.75 L827.83 86.87 L826.13 85.17 L828.25 83.05 Z" fill="#111"/><path d="M818.9 87.6 L821.15 89.85 L823.27 87.73 L824.97 89.43 L822.85 91.55 L825.1 93.8 L818.9 93.8 Z" fill="#111"/></g>
<text x="66.7" y="514.4" font-size="13" fill="#555" stroke="#555" stroke-width="0.2" text-anchor="end">80.0</text>
<text x="66.7" y="559" font-size="13" fill="#555" stroke="#555" stroke-width="0.2" text-anchor="end">60.0</text>
<text x="66.7" y="604.2" font-size="13" fill="#555" stroke="#555" stroke-width="0.2" text-anchor="end">40.0</text>
<rect x="83" y="508" width="748" height="1" fill="#eaeaea"/>
<rect x="83" y="554.8" width="748" height="1" fill="#eaeaea"/>
<path d="M83 599 L83 568.4 L85 568.4 L85.5 564 L86.5 564 L87 568.4 L198 568.4 L200.6 569.1 L202.7 566.8 L205.3 566.8 L207.4 564.4 L212 563.7 L213.3 564.4 L214.4 562.1 L215.7 562.1 L216.8 559.8 L231 560 L232.5 559.8 L233.8 557.4 L235.3 557.4 L236.6 555.1 L238.1 555.1 L239.4 552.8 L240.9 552.8 L242.2 550.4 L243.7 550.4 L245 548.1 L255.7 548.3 L259 544.8 L265 543.6 L268.7 540.6 L280.6 540.1 L281.8 541.1 L282.7 538.8 L283.9 538.8 L284.8 536.4 L286 536.4 L287 534.1 L288.1 534.1 L289.1 531.8 L290.2 531.8 L291.2 529.4 L292.2 529.4 L293.1 531.8 L294.1 531.8 L295 534.1 L296 534.1 L296.9 536.4 L297.9 536.4 L298.8 538.8 L299.8 538.8 L300.7 541.1 L301.8 544.8 L307.7 544.8 L308.9 548.3 L317.2 548.3 L318.3 544.8 L330 544.8 L331.3 548.3 L336.5 548.3 L336.8 544.8 L339.6 544.8 L340 548.3 L345.5 548.3 L346.1 548.1 L346.7 545.8 L347.3 545.8 L347.8 543.4 L348.5 543.4 L349 541.1 L356 541.3 L357.7 536.6 L358.3 536.4 L358.7 538.8 L359.3 538.8 L359.8 541.1 L360.3 541.1 L360.8 543.4 L364.3 546 L365 545.8 L365.5 548.1 L366.2 548.1 L366.7 550.4 L367.6 550.4 L368.3 552.8 L369.1 552.8 L369.8 555.1 L370.7 555.1 L371.4 557.4 L383.2 556.6 L385.6 560.1 L388 560.1 L388.5 559.8 L388.9 557.4 L389.4 557.4 L389.8 555.1 L390.3 555.1 L390.8 552.8 L391.3 552.8 L391.7 550.4 L392.2 550.4 L392.6 548.1 L393.7 548.1 L394.7 545.8 L395.8 545.8 L396.8 543.4 L397.9 543.4 L398.8 541.1 L400 541.1 L400.9 538.8 L401.5 538.8 L402.1 536.4 L402.7 536.4 L403.3 534.1 L403.9 534.1 L404.4 531.8 L405.1 531.8 L405.6 529.4 L406.3 529.4 L406.8 527.1 L407.4 527.1 L408 524.7 L408.6 524.7 L409.1 522.4 L409.8 522.4 L410.3 520.1 L411 520.1 L411.5 517.7 L412.5 517.7 L413.3 520.1 L414.3 520.1 L415 522.4 L416 522.4 L416.8 524.7 L417.8 524.7 L418.6 527.1 L419.3 527.1 L419.8 529.4 L420.4 529.4 L421 531.8 L421.6 531.8 L422.2 534.1 L422.8 534.1 L423.3 536.4 L424 536.4 L424.5 538.8 L425.2 538.8 L425.7 541.1 L436.3 540.1 L436.9 541.1 L437.5 538.8 L438.1 538.8 L438.6 536.4 L445.7 536.6 L446.2 536.4 L446.6 534.1 L447.1 534.1 L447.4 531.8 L447.9 531.8 L448.3 529.4 L448.8 529.4 L449.2 527.1 L450.2 527.1 L451 529.4 L452 529.4 L452.8 531.8 L456.3 528.3 L459.9 528.3 L460.4 529.4 L460.8 527.1 L461.3 527.1 L461.6 524.7 L462.1 524.7 L462.5 522.4 L463 522.4 L463.4 520.1 L464.7 520.1 L465.9 517.7 L467.2 517.7 L468.3 515.4 L471.8 512.3 L488.3 512.3 L489.5 516 L493 516 L495.4 512.3 L497.7 516 L499.6 520 L503.6 520 L504.8 516 L509 512.3 L509.4 513.1 L509.8 515.4 L510.2 515.4 L510.6 517.7 L511 517.7 L511.4 520.1 L511.8 520.1 L512.2 522.4 L512.6 522.4 L513 524.7 L519 523.6 L520 528.3 L523.7 528.3 L524.3 529.4 L524.9 527.1 L525.5 527.1 L526 524.7 L530.8 523.6 L531.7 524.7 L532.4 527.1 L533.2 527.1 L533.9 529.4 L534.8 529.4 L535.5 531.8 L543.7 531.8 L545 528.3 L545.8 529.4 L546.5 527.1 L547.2 527.1 L547.9 524.7 L548.7 524.7 L549.3 522.4 L550.1 522.4 L550.8 520.1 L560.2 520 L561.4 516.5 L562.5 520 L574.4 520 L575.6 524 L580.3 524 L581.5 520 L582.5 524 L583.5 524.7 L584.4 522.4 L585.4 522.4 L586.2 520.1 L587.5 520.1 L588.6 517.7 L589.9 517.7 L591 515.4 L600.3 516 L600.8 515.4 L601.2 517.7 L601.7 517.7 L602.1 520.1 L602.6 520.1 L603 522.4 L603.5 522.4 L603.9 524.7 L609.8 524 L610.3 524.7 L610.7 522.4 L611.2 522.4 L611.5 520.1 L612 520.1 L612.4 517.7 L612.9 517.7 L613.3 515.4 L634.5 516 L635.2 515.4 L635.7 517.7 L636.4 517.7 L636.9 520.1 L646.3 520 L647.5 524 L657.4 524 L658.6 520 L659.9 520.1 L661 517.7 L662.2 517.7 L663.3 515.4 L666.9 512.3 L669.2 516 L671.6 512.3 L674 516 L674.6 515.4 L675.1 517.7 L675.8 517.7 L676.3 520.1 L677.5 516 L678.1 515.4 L678.6 517.7 L679.3 517.7 L679.8 520.1 L680.5 520.1 L681 522.4 L681.7 522.4 L682.2 524.7 L683.5 524.7 L684.5 522.4 L685.8 522.4 L686.9 520.1 L687.9 520.1 L688.7 517.7 L689.7 517.7 L690.5 515.4 L692.8 512.3 L695.2 516 L708.1 516 L708.8 515.4 L709.3 517.7 L710 517.7 L710.5 520.1 L716.4 520 L717.1 520.1 L717.6 522.4 L718.3 522.4 L718.8 524.7 L725.8 524 L727 520 L728.2 528.3 L733 528.3 L734.3 529.4 L735.3 531.8 L736.6 531.8 L737.6 534.1 L738.7 534.1 L739.7 536.4 L740.8 536.4 L741.7 538.8 L749.6 540.6 L751 540.6 L752 548 L766 548 L766.5 544.5 L772 544.5 L772.5 548 L778 548 L778.5 545 L781 545 L781.5 548 L790 548 L791 540.6 L802.5 540.6 L803.5 536.6 L810.5 536.6 L811.5 532 L812.8 532 L813.3 536.6 L829.6 536.6 L831 533 L831 599 Z" fill="#888"/>
<rect x="83" y="599" width="748" height="1" fill="#cfd7ec"/>
<line x1="83" y1="538.9" x2="831" y2="538.9" stroke="#888" stroke-width="1" stroke-dasharray="4.2,3.4"/>
<text x="160.2" y="595" font-size="13" fill="#666" stroke="#666" stroke-width="0.3" text-anchor="middle">1:23:20</text>
<text x="259.7" y="595" font-size="13" fill="#666" stroke="#666" stroke-width="0.3" text-anchor="middle">2:46:40</text>
<text x="359.2" y="595" font-size="13" fill="#666" stroke="#666" stroke-width="0.3" text-anchor="middle">4:10:00</text>
<text x="458.7" y="595" font-size="13" fill="#666" stroke="#666" stroke-width="0.3" text-anchor="middle">5:33:20</text>
<text x="558.2" y="595" font-size="13" fill="#666" stroke="#666" stroke-width="0.3" text-anchor="middle">6:56:40</text>
<text x="657.7" y="595" font-size="13" fill="#666" stroke="#666" stroke-width="0.3" text-anchor="middle">8:20:00</text>
<text x="757.2" y="595" font-size="13" fill="#666" stroke="#666" stroke-width="0.3" text-anchor="middle">9:43:20</text>
<rect x="207.9" y="508" width="1.1" height="91" fill="#333"/>
<rect x="723" y="542" width="87.7" height="21.7" fill="#fffff2" fill-opacity="0.72"/>
<text x="728.2" y="558.7" font-size="14" fill="#1a1a1a" stroke="#1a1a1a" stroke-width="0.25" textLength="76.6" lengthAdjust="spacingAndGlyphs">Avg: 66.9 °F</text>
<path filter="url(#sh)" d="M135 542.4 L198.1 542.4 L198.1 557.7 L206.4 564.2 L198.1 570.7 L198.1 576.6 L135 576.6 Z" fill="#fff" fill-opacity="0.85"/>
<text x="144.5" y="564.4" font-size="14" fill="#1a1a1a" stroke="#1a1a1a" stroke-width="0.25" textLength="44.8" lengthAdjust="spacingAndGlyphs">55.4 °F</text>
</svg></body></html>
